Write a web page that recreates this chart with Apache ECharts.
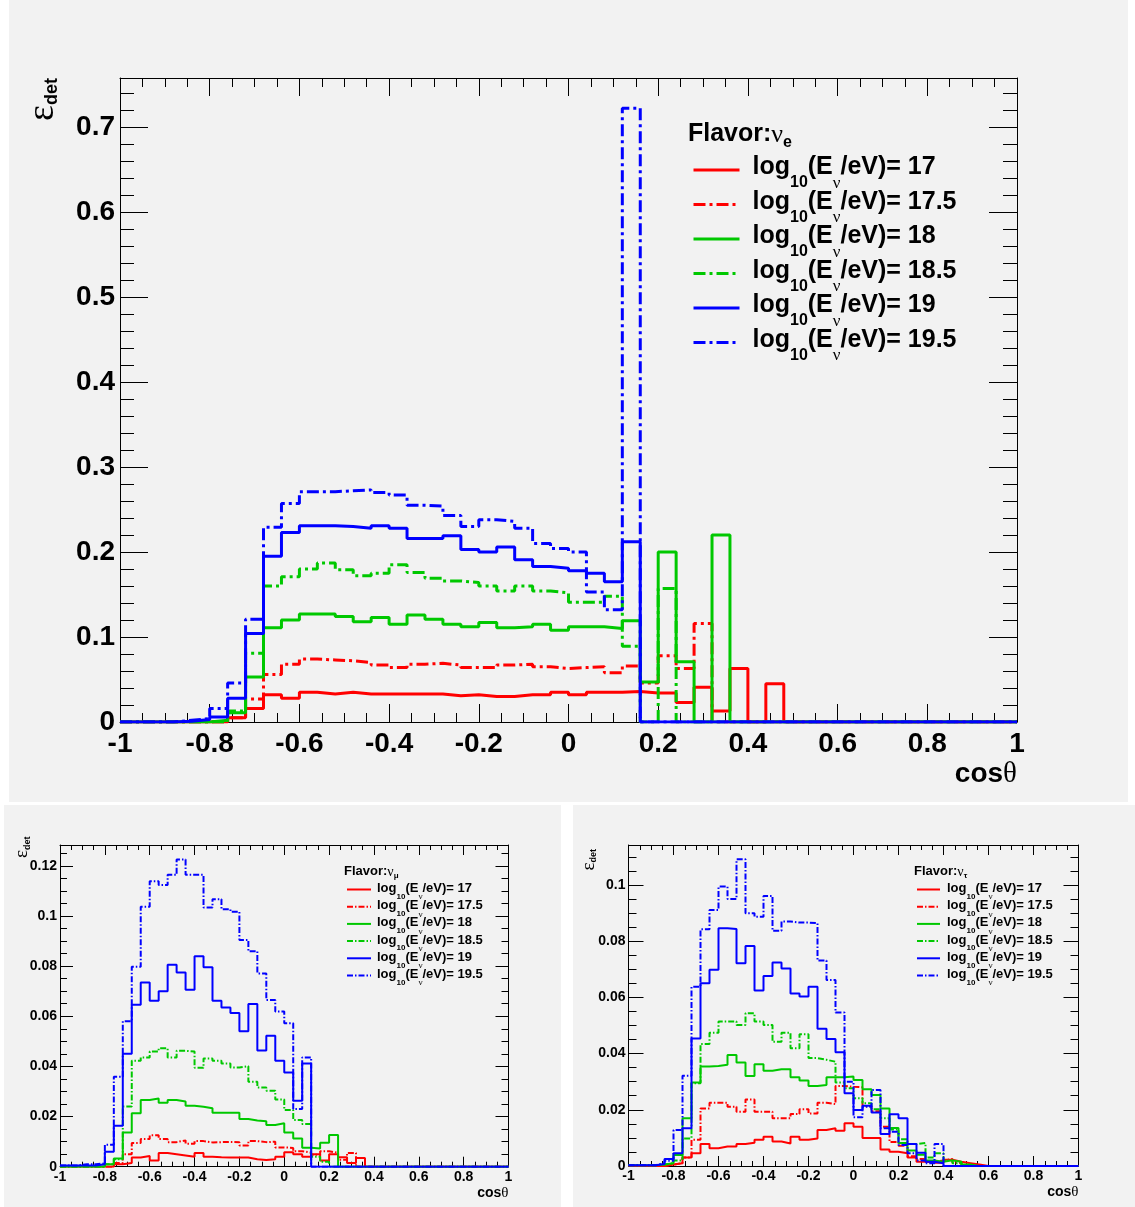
<!DOCTYPE html>
<html><head><meta charset="utf-8">
<script src="https://cdn.jsdelivr.net/npm/echarts@6/dist/echarts.min.js"></script>
<style>
html,body{margin:0;padding:0;background:#fff;}
#wrap{position:relative;width:1135px;height:1207px;}
.bg{position:absolute;background:#f2f2f2;}
#c{position:absolute;left:0;top:0;width:1135px;height:1207px;}
</style>
</head><body>
<div id="wrap">
<div class="bg" style="left:9px;top:0;width:1119px;height:802px"></div>
<div class="bg" style="left:4px;top:805px;width:557px;height:402px"></div>
<div class="bg" style="left:573px;top:805px;width:562px;height:402px"></div>
<div id="c"></div>
</div>
<script>
// ---------- DATA ----------
const binEdges = [-1,-0.96,-0.92,-0.88,-0.84,-0.8,-0.76,-0.72,-0.68,-0.64,-0.6,-0.56,-0.52,-0.48,-0.44,-0.4,-0.36,-0.32,-0.28,-0.24,-0.2,-0.16,-0.12,-0.08,-0.04,0,0.04,0.08,0.12,0.16,0.2,0.24,0.28,0.32,0.36,0.4,0.44,0.48,0.52,0.56,0.6,0.64,0.68,0.72,0.76,0.8,0.84,0.88,0.92,0.96,1];
const energies = ['17','17.5','18','18.5','19','19.5'];

// nu_e
const nue_17 = [0,0,0,0,0,0,0.005,0.016,0.032,0.028, 0.035,0.033,0.035,0.033,0.033,0.033,0.033,0.033,0.031,0.032, 0.030,0.030,0.032,0.032,0.035,0.032,0.035,0.035,0.036,0.034, 0.034,0.023,0.041,0.013,0.063,0,0.045,0,0,0, 0,0,0,0,0,0,0,0,0,0];
const nue_17_5 = [0,0,0,0,0,0,0.005,0.027,0.056,0.068, 0.074,0.073,0.072,0.070,0.067,0.064,0.068,0.069,0.067,0.064, 0.064,0.067,0.068,0.065,0.063,0.064,0.065,0.058,0.066,0.046, 0.078,0.063,0.116,0,0,0,0,0,0,0, 0,0,0,0,0,0,0,0,0,0];
const nue_18 = [0,0,0,0,0,0.002,0.011,0.053,0.111,0.120, 0.127,0.127,0.124,0.118,0.123,0.115,0.126,0.121,0.115,0.112, 0.117,0.111,0.112,0.115,0.108,0.112,0.112,0.110,0.119,0.047, 0.200,0.071,0,0.220,0,0,0,0,0,0, 0,0,0,0,0,0,0,0,0,0];
const nue_18_5 = [0,0,0,0,0,0,0.013,0.081,0.160,0.171, 0.180,0.187,0.179,0.172,0.175,0.185,0.176,0.169,0.166,0.164, 0.160,0.154,0.160,0.154,0.152,0.141,0.141,0.148,0.089,0, 0.157,0,0,0,0,0,0,0,0,0, 0,0,0,0,0,0,0,0,0,0];
const nue_19 = [0,0,0,0.001,0.003,0.006,0.028,0.104,0.195,0.223, 0.231,0.231,0.230,0.228,0.231,0.228,0.216,0.216,0.219,0.203, 0.200,0.206,0.191,0.183,0.181,0.178,0.175,0.165,0.212,0, 0,0,0,0,0,0,0,0,0,0, 0,0,0,0,0,0,0,0,0,0];
const nue_19_5 = [0,0,0,0.002,0.004,0.016,0.046,0.121,0.229,0.257, 0.271,0.271,0.272,0.273,0.270,0.267,0.255,0.254,0.243,0.230, 0.238,0.236,0.228,0.210,0.204,0.200,0.153,0.132,0.722,0, 0,0,0,0,0,0,0,0,0,0, 0,0,0,0,0,0,0,0,0,0];

// nu_mu
const numu_17 = [0,0,0,0,0,0,0.001,0.0015,0.0037,0.0043, 0.0025,0.0055,0.005,0.0045,0.004,0.0055,0.004,0.0038,0.0037,0.0037, 0.0037,0.003,0.0027,0.003,0.004,0.0058,0.005,0.004,0.005,0.0025, 0.005,0.0038,0.0015,0.0035,0,0,0,0,0,0, 0,0,0,0,0,0,0,0,0,0];
const numu_17_5 = [0,0,0,0,0,0,0.0015,0.005,0.0095,0.011, 0.0125,0.011,0.0098,0.0105,0.0092,0.0102,0.0097,0.0098,0.0099,0.0098, 0.0085,0.0102,0.0098,0.010,0.0077,0.0075,0.0062,0.0056,0.0048,0.0062, 0.0055,0.0028,0.0055,0,0,0,0,0,0,0, 0,0,0,0,0,0,0,0,0,0];
const numu_18 = [0,0,0,0,0,0.001,0.0033,0.0136,0.0213,0.0266, 0.0272,0.0255,0.0266,0.026,0.0243,0.0239,0.0233,0.0215,0.0215,0.0215, 0.019,0.0184,0.0181,0.0166,0.0173,0.0136,0.0112,0.0076,0.0073,0.0096, 0.0126,0,0,0,0,0,0,0,0,0, 0,0,0,0,0,0,0,0,0,0];
const numu_18_5 = [0,0,0,0,0,0.001,0.003,0.024,0.0423,0.0436, 0.0459,0.0472,0.0436,0.0462,0.0459,0.0395,0.0432,0.0423,0.0412,0.0396, 0.0401,0.0339,0.0316,0.0303,0.0268,0.0226,0.0186,0.017,0.004,0.002, 0,0,0,0,0,0,0,0,0,0, 0,0,0,0,0,0,0,0,0,0];
const numu_19 = [0.0005,0.0005,0.0005,0.0005,0.001,0.006,0.0163,0.045,0.0646,0.0735, 0.0662,0.070,0.0805,0.0775,0.0706,0.0839,0.0795,0.0662,0.0635,0.0613, 0.054,0.0649,0.0463,0.0522,0.0423,0.0376,0.0263,0.0412,0,0, 0,0,0,0,0,0,0,0,0,0, 0,0,0,0,0,0,0,0,0,0];
const numu_19_5 = [0.0005,0.0005,0.001,0.001,0.0013,0.0088,0.0359,0.058,0.0797,0.1037, 0.1138,0.1123,0.1164,0.1225,0.1164,0.1164,0.1034,0.1067,0.1027,0.1017, 0.0904,0.0859,0.0771,0.0665,0.0619,0.0572,0.023,0.0436,0,0, 0,0,0,0,0,0,0,0,0,0, 0,0,0,0,0,0,0,0,0,0];

// nu_tau
const nutau_17 = [0,0,0,0,0.0005,0.001,0.003,0.0045,0.0078,0.0063, 0.0069,0.0069,0.0078,0.0083,0.0093,0.0104,0.0087,0.0080,0.0104,0.0093, 0.0098,0.0128,0.0134,0.0125,0.0152,0.014,0.0100,0.0100,0.0059,0.0051, 0.0045,0.0030,0.0015,0.0012,0.0012,0.0022,0.0015,0.0010,0.0005,0, 0,0,0,0,0,0,0,0,0,0];
const nutau_17_5 = [0,0,0,0,0.0005,0.001,0.003,0.0093,0.0205,0.0225, 0.0225,0.0211,0.0193,0.0237,0.0193,0.0193,0.017,0.017,0.0185,0.0202, 0.0187,0.0225,0.022,0.0285,0.0282,0.028,0.0213,0.0195,0.014,0.0085, 0.0072,0.0035,0.0025,0.0015,0.002,0.0025,0.0012,0,0,0, 0,0,0,0,0,0,0,0,0,0];
const nutau_18 = [0.0003,0.0003,0.0003,0.0005,0.001,0.0039,0.017,0.0297,0.0354,0.0356, 0.036,0.0395,0.0368,0.032,0.0362,0.0339,0.0344,0.0344,0.0316,0.0304, 0.0285,0.0288,0.0316,0.0316,0.0318,0.0306,0.0273,0.0253,0.0205,0.0135, 0.0082,0.0055,0.004,0.002,0.0015,0.002,0.0015,0.0005,0,0, 0,0,0,0,0,0,0,0,0,0];
const nutau_18_5 = [0.0003,0.0003,0.0003,0.0005,0.001,0.002,0.0098,0.0294,0.0434,0.0474, 0.0514,0.0514,0.0502,0.0543,0.0514,0.0502,0.0442,0.0474,0.0419,0.0469, 0.0384,0.0378,0.0371,0.0297,0.0277,0.0241,0.0223,0.0202,0.017,0.013, 0.0095,0.0078,0.0082,0.003,0.0045,0.002,0.001,0,0,0, 0,0,0,0,0,0,0,0,0,0];
const nutau_19 = [0.0003,0.0003,0.0003,0.0007,0.0025,0.0045,0.0134,0.0454,0.065,0.0698, 0.0846,0.0843,0.0721,0.0783,0.0624,0.0676,0.0724,0.0703,0.0614,0.0603, 0.0638,0.0488,0.0452,0.0405,0.0259,0.0199,0.0214,0.019,0.0114,0.0184, 0.017,0.0078,0.0047,0.0015,0.001,0,0,0,0,0, 0,0,0,0,0,0,0,0,0,0];
const nutau_19_5 = [0.0003,0.0003,0.0003,0.001,0.0019,0.0128,0.0321,0.0638,0.0842,0.0911, 0.0994,0.095,0.1091,0.0899,0.0887,0.0961,0.0837,0.087,0.0866,0.0866, 0.0864,0.0731,0.0662,0.0546,0.030,0.0173,0.0211,0.027,0.0134,0.0122, 0.0075,0.0045,0.002,0.001,0.0078,0,0,0,0,0, 0,0,0,0,0,0,0,0,0,0];

const xTickLabels = ['-1','-0.8','-0.6','-0.4','-0.2','0','0.2','0.4','0.6','0.8','1'];

// ---------- STYLE / LAYOUT ----------
const COLORS = ['#ff0000','#ff0000','#00c800','#00c800','#0000ff','#0000ff'];
const SANS = 'Liberation Sans';
const SERIF = 'Liberation Serif';

const panels = [
  { key:'e', sub:'e', data:[nue_17,nue_17_5,nue_18,nue_18_5,nue_19,nue_19_5],
    grid:{left:120, top:78, width:897, height:644}, ymax:0.7576, yMajor:0.1, yMinor:0.02,
    xTick:[18,9], yTick:[28,14], lw:3, dash:[12,4,3,4], fs:28, xMargin:8, yMargin:5,
    nameFs:28, xNamePad:38, yNamePad:58, yNameGap:0, epsFs:38, detFs:18, detPad:19,
    leg:{left:692, top:155, itemWidth:46, tfs:25, sfs:16, nfs:17, lh:30, spad:20, gap:-2.5, tpad:8},
    title:{left:688, top:122, spad:13}
  },
  { key:'m', sub:'\u03bc', data:[numu_17,numu_17_5,numu_18,numu_18_5,numu_19,numu_19_5],
    grid:{left:60, top:845, width:448.5, height:321.7}, ymax:0.1283, yMajor:0.02, yMinor:0.005,
    xTick:[10,5], yTick:[13,7], lw:2, dash:[6,2,1.5,2], fs:14, xMargin:3, yMargin:3,
    nameFs:14, xNamePad:19, yNamePad:28, yNameGap:-4, epsFs:19, detFs:9, detPad:10,
    leg:{left:346, top:882, itemWidth:24, tfs:13, sfs:8, nfs:9, lh:15, spad:10.5, gap:-2.3, tpad:1},
    title:{left:344, top:865, spad:6.5}
  },
  { key:'t', sub:'\u03c4', data:[nutau_17,nutau_17_5,nutau_18,nutau_18_5,nutau_19,nutau_19_5],
    grid:{left:628.5, top:845, width:450, height:321}, ymax:0.1142, yMajor:0.02, yMinor:0.005,
    xTick:[10,5], yTick:[15,8], lw:2, dash:[6,2,1.5,2], fs:14, xMargin:3, yMargin:3,
    nameFs:14, xNamePad:19, yNamePad:30, yNameGap:-4, epsFs:19, detFs:9, detPad:10,
    leg:{left:916, top:882, itemWidth:23, tfs:13, sfs:8, nfs:9, lh:15, spad:10.5, gap:-2.3, tpad:2},
    title:{left:914, top:865, spad:6.5}
  }
];

function stepData(vals){
  const d = [];
  for (let i = 0; i < vals.length; i++) d.push([binEdges[i], vals[i]]);
  d.push([binEdges[vals.length], vals[vals.length-1]]);
  return d;
}

const grids = [], xAxes = [], yAxes = [], series = [], legends = [], titles = [];

panels.forEach((p, gi) => {
  grids.push(Object.assign({outerBoundsMode:'none', containLabel:false}, p.grid));
  const tickStyle = {color:'#000', width:1};
  const xBase = {gridIndex:gi, type:'value', min:-1, max:1, interval:0.2,
    splitLine:{show:false}, minorSplitLine:{show:false},
    axisLine:{show:true, onZero:false, lineStyle:{color:'#000', width:1}},
    axisTick:{show:true, inside:true, length:p.xTick[0], lineStyle:tickStyle},
    minorTick:{show:true, splitNumber:4, length:p.xTick[1], lineStyle:tickStyle}};
  xAxes.push(Object.assign({}, xBase, {position:'bottom',
    axisLabel:{show:true, margin:p.xMargin, fontFamily:SANS, fontWeight:'bold', fontSize:p.fs, color:'#000',
      formatter: v => { const k = Math.round((v + 1) / 0.2); return xTickLabels[k] !== undefined ? xTickLabels[k] : ''; }},
    name:'{c|cos}{th|\u03b8}', nameLocation:'end', nameGap:0,
    nameTextStyle:{align:'right', verticalAlign:'top', padding:[p.xNamePad,0,0,0],
      rich:{c:{fontFamily:SANS, fontWeight:'bold', fontSize:p.nameFs, color:'#000'},
            th:{fontFamily:SERIF, fontSize:p.nameFs+1, color:'#000'}}}}));
  xAxes.push(Object.assign({}, xBase, {position:'top', axisLabel:{show:false}}));

  const yBase = {gridIndex:gi, type:'value', min:0, max:p.ymax, splitLine:{show:false}, minorSplitLine:{show:false}};
  const mk = (pos, major, withLabel) => Object.assign({}, yBase, {
    position:pos, interval: major ? p.yMajor : p.yMinor,
    axisLine:{show: major, onZero:false, lineStyle:{color:'#000', width:1}},
    axisTick:{show:true, inside:true, length: major ? p.yTick[0] : p.yTick[1], lineStyle:tickStyle},
    axisLabel: withLabel ? {show:true, showMaxLabel:false, margin:p.yMargin, fontFamily:SANS, fontWeight:'bold', fontSize:p.fs, color:'#000'} : {show:false}
  });
  const yl = mk('left', true, true);
  yl.name = '{e|\u03b5}{d|det}';
  yl.nameLocation = 'end';
  yl.nameGap = p.yNameGap;
  yl.nameRotate = 90;
  yl.nameTextStyle = {align:'right', verticalAlign:'bottom', padding:[0,0,p.yNamePad,0],
    rich:{e:{fontFamily:SERIF, fontSize:p.epsFs, color:'#000', verticalAlign:'top', lineHeight:p.epsFs},
          d:{fontFamily:SANS, fontWeight:'bold', fontSize:p.detFs, color:'#000', verticalAlign:'top', lineHeight:p.detFs, padding:[p.detPad,0,0,0]}}};
  yAxes.push(yl, mk('left', false, false), mk('right', true, false), mk('right', false, false));

  const names = [];
  p.data.forEach((vals, k) => {
    const name = p.key + '|' + energies[k];
    names.push(name);
    series.push({
      type:'line', name, xAxisIndex:2*gi, yAxisIndex:4*gi, data:stepData(vals),
      step:'end', symbol:'none', showSymbol:false, animation:false, silent:true,
      color:COLORS[k],
      lineStyle:{color:COLORS[k], width:p.lw, type: (k % 2 === 1) ? p.dash : 'solid'}
    });
  });

  const L = p.leg;
  const tok = {fontFamily:SANS, fontWeight:'bold', color:'#000', verticalAlign:'top'};
  legends.push({
    data:names, orient:'vertical', left:L.left, top:L.top, padding:0, itemGap:L.gap,
    itemWidth:L.itemWidth, itemHeight:4, selectedMode:false,
    itemStyle:{opacity:0}, lineStyle:{width:p.lw},
    formatter: n => '{t|log}{s|10}{t|(E}{n|\u03bd}{t|/eV)= ' + n.split('|')[1] + '}',
    textStyle:{padding:[0,0,0,L.tpad], rich:{
      t:Object.assign({}, tok, {fontSize:L.tfs, lineHeight:L.lh}),
      s:Object.assign({}, tok, {fontSize:L.sfs, lineHeight:L.sfs, padding:[L.spad,0,0,0]}),
      n:Object.assign({}, tok, {fontFamily:SERIF, fontWeight:'normal', fontSize:L.nfs, lineHeight:L.sfs, padding:[L.spad,0,0,0]})
    }}
  });
  titles.push({
    text:'{b|Flavor:}{g|\u03bd}{s|' + p.sub + '}', left:p.title.left, top:p.title.top, padding:0,
    textStyle:{rich:{
      b:Object.assign({}, tok, {fontSize:L.tfs, lineHeight:L.lh}),
      g:Object.assign({}, tok, {fontFamily:SERIF, fontWeight:'normal', fontSize:L.tfs+1, lineHeight:L.lh}),
      s:Object.assign({}, tok, {fontSize:L.sfs, lineHeight:L.sfs, padding:[p.title.spad,0,0,0]})
    }}
  });
});

const chart = echarts.init(document.getElementById('c'), null, {renderer:'canvas', width:1135, height:1207});
chart.setOption({
  animation:false, backgroundColor:'transparent',
  title:titles, legend:legends, grid:grids, xAxis:xAxes, yAxis:yAxes, series:series
});
</script>
</body></html>
